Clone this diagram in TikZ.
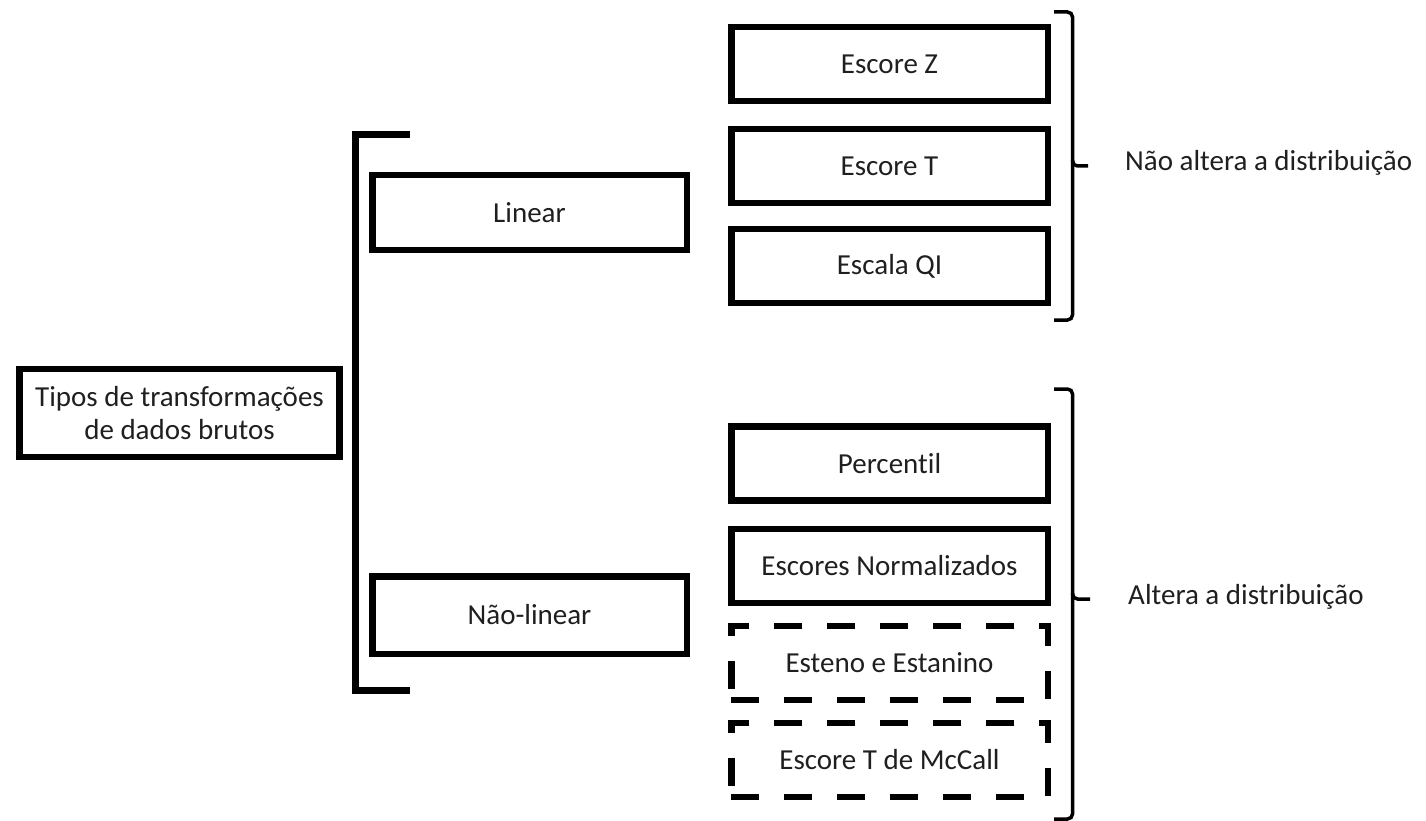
\documentclass[tikz,border=0pt]{standalone}
\usepackage{fontspec}
\setmainfont[Ligatures={NoCommon}]{Carlito}
\begin{document}
\begin{tikzpicture}[x=1pt,y=-1pt,
  txt/.style={font=\fontsize{29}{33}\selectfont, text=black!88},
  box/.style={txt, draw, line width=6.5pt, inner sep=0pt, align=center, minimum width=316.5pt, minimum height=74pt},
  dbox/.style={box, dash pattern=on 28pt off 25pt},
  bracketline/.style={line width=7pt},
  braceline/.style={line width=3.5pt, rounded corners=5pt}]
\path[use as bounding box] (0,0) rectangle (1426,821);
% main
\node[box, minimum width=320pt, minimum height=88pt] (main) at (179.5,413) {Tipos de transformações\\de dados brutos};
% left bracket
\coordinate (lbt) at (410,135);
\coordinate (lbb) at (410,690);
\draw[bracketline] (lbt) -- (355.5,135) -- (355.5,690) -- (lbb);
% middle column
\node[box, minimum width=314.5pt, minimum height=74.5pt] (lin) at (529.5,212.5) {Linear};
\node[box, minimum width=314.5pt, minimum height=77.5pt] (nlin) at (529.5,615) {Não-linear};
% right column
\node[box] (z) at (889.5,64) {Escore Z};
\node[box] (t) at (889.5,166) {Escore T};
\node[box] (qi) at (889.5,266) {Escala QI};
\node[box] (perc) at (889.5,463.5) {Percentil};
\node[box] (norm) at (889.5,566) {Escores Normalizados};
\node[dbox] (est) at (889.5,663) {Esteno e Estanino};
\node[dbox] (mcc) at (889.5,760) {Escore T de McCall};
% brace 1
\coordinate (b1t) at (1054,12);
\coordinate (b1m) at (1088,166);
\coordinate (b1b) at (1054,320);
\draw[braceline] (b1t) -| (1072.5,166) -- (b1m);
\draw[braceline] (1072.5,160) |- (b1b);
% brace 2
\coordinate (b2t) at (1054,389);
\coordinate (b2m) at (1090,599);
\coordinate (b2b) at (1054,819);
\draw[braceline] (b2t) -| (1072.5,599) -- (b2m);
\draw[braceline] (1072.5,593) |- (b2b);
% labels
\node[txt, anchor=west, inner sep=0pt] (l1) at (1125,163) {Não altera a distribuição};
\node[txt, anchor=west, inner sep=0pt] (l2) at (1128,597) {Altera a distribuição};
\end{tikzpicture}
\end{document}
